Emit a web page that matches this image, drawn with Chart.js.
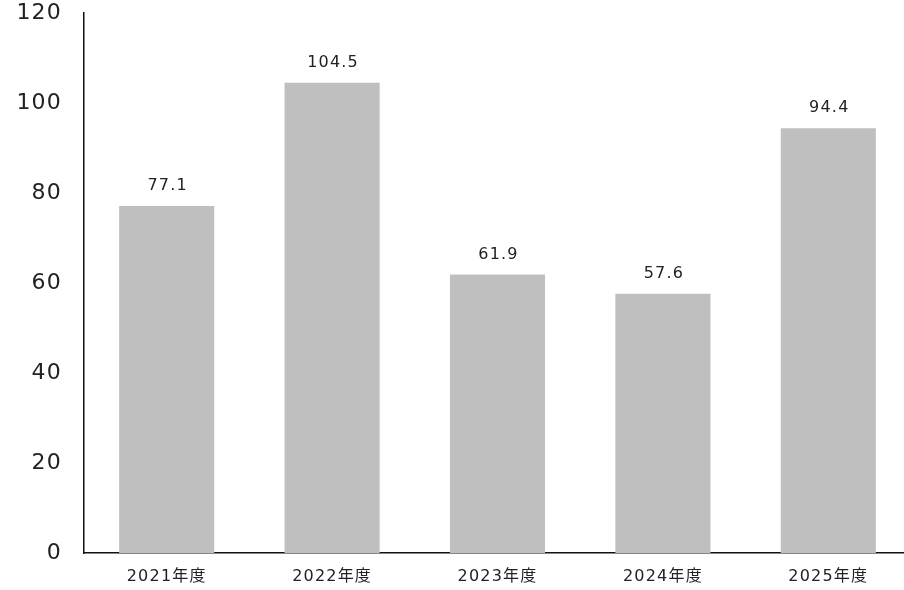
<!DOCTYPE html>
<html lang="ja">
<head>
<meta charset="UTF-8">
<title>年度別推移</title>
<script src="https://cdn.jsdelivr.net/npm/chart.js"></script>
<style>
    html, body { margin: 0; padding: 0; background: #fff; overflow: hidden; }
    .chart-wrap { width: 911px; height: 590px; }
</style>
</head>
<body>
<div class="chart-wrap"><canvas id="barChart"></canvas></div>
<script>
    const years = ['2021年度', '2022年度', '2023年度', '2024年度', '2025年度'];
    const values = [77.1, 104.5, 61.9, 57.6, 94.4];
    const yTicks = [0, 20, 40, 60, 80, 100, 120];

    const fontFamily = '"DejaVu Sans", "Noto Sans CJK JP", sans-serif';

    // wider letter spacing for all chart text
    const spacing = {
        id: 'spacing',
        beforeDraw(chart) { chart.ctx.letterSpacing = '1.2px'; }
    };

    // value printed above each bar
    const valueLabels = {
        id: 'valueLabels',
        afterDatasetsDraw(chart) {
            const ctx = chart.ctx;
            const meta = chart.getDatasetMeta(0);
            ctx.save();
            ctx.letterSpacing = '1.2px';
            ctx.font = '16px ' + fontFamily;
            ctx.fillStyle = '#222';
            ctx.textAlign = 'center';
            ctx.textBaseline = 'middle';
            meta.data.forEach((bar, i) => {
                ctx.fillText(values[i].toFixed(1), bar.x + 1, bar.y - 20);
            });
            ctx.restore();
        }
    };

    new Chart(document.getElementById('barChart'), {
        type: 'bar',
        data: {
            labels: years,
            datasets: [{
                data: values,
                backgroundColor: '#bfbfbf',
                categoryPercentage: 1,
                barPercentage: 0.575
            }]
        },
        options: {
            responsive: true,
            maintainAspectRatio: false,
            animation: false,
            layout: { padding: { top: 13, left: 14, right: 0, bottom: 0 } },
            plugins: { legend: { display: false }, tooltip: { enabled: false } },
            scales: {
                x: {
                    grid: { display: false, drawTicks: false },
                    border: { color: '#111', width: 1.5 },
                    ticks: { color: '#222', font: { family: fontFamily, size: 16 }, padding: 14 },
                    afterFit(axis) {
                        axis.height = 37;
                        axis.paddingLeft = 0;
                        axis.paddingRight = 0;
                    }
                },
                y: {
                    min: 0,
                    max: 120,
                    afterBuildTicks(axis) { axis.ticks = yTicks.map(v => ({ value: v })); },
                    grid: { display: false, drawTicks: false },
                    border: { color: '#111', width: 1.5 },
                    ticks: { color: '#222', font: { family: fontFamily, size: 22 }, padding: 22 },
                    afterFit(axis) {
                        axis.width = 70;
                        axis.paddingTop = 0;
                        axis.paddingBottom = 0;
                    }
                }
            }
        },
        plugins: [spacing, valueLabels]
    });
</script>
</body>
</html>
